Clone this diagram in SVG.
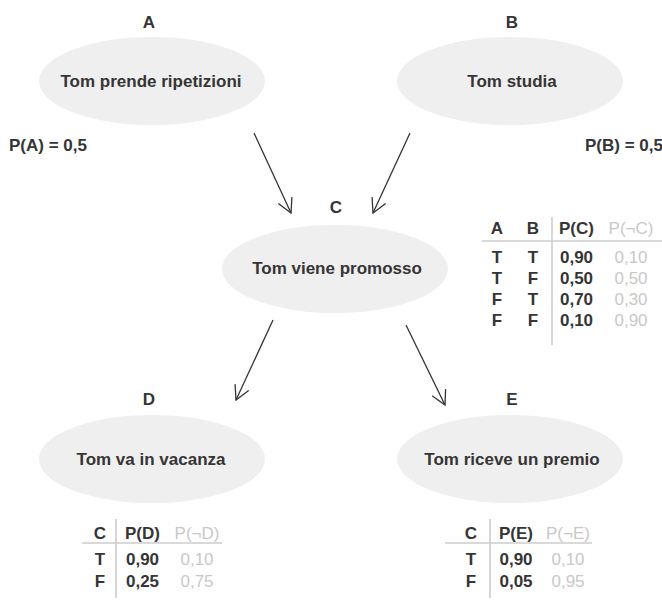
<svg xmlns="http://www.w3.org/2000/svg" width="662" height="600" viewBox="0 0 662 600">
  <defs>
    <style>
      text { font-family: "Liberation Sans", Arial, Helvetica, sans-serif; font-size: 17px; font-weight: bold; fill: #353535; }
      .mid { text-anchor: middle; }
      .neg { font-weight: normal; fill: #c8c8c8; }
      .node { fill: #efefef; stroke: none; }
      .edge { fill: none; stroke: #333333; stroke-width: 1.3; }
      .rule { stroke: #cccccc; stroke-width: 1.6; fill: none; }
    </style>
    <marker id="arrow" markerUnits="userSpaceOnUse" markerWidth="20" markerHeight="20" viewBox="-16 -10 20 20" refX="0" refY="0" orient="auto">
      <path d="M-14,-7.5 L0,0 L-14,7.5" fill="none" stroke="#333333" stroke-width="1.3"/>
    </marker>
  </defs>

  <!-- connectors -->
  <g id="edges">
    <line class="edge" x1="254" y1="133" x2="291" y2="213" marker-end="url(#arrow)"/>
    <line class="edge" x1="410" y1="133" x2="373" y2="213" marker-end="url(#arrow)"/>
    <line class="edge" x1="273" y1="320" x2="236" y2="400" marker-end="url(#arrow)"/>
    <line class="edge" x1="406" y1="325" x2="445" y2="405" marker-end="url(#arrow)"/>
  </g>

  <!-- A: Tom prende ripetizioni -->
  <g id="node-A">
    <text class="mid" x="149" y="28">A</text>
    <ellipse class="node" cx="152" cy="81" rx="113" ry="44"/>
    <text class="mid" x="151" y="87">Tom prende ripetizioni</text>
    <text x="9" y="151">P(A) = 0,5</text>
  </g>

  <!-- B: Tom studia -->
  <g id="node-B">
    <text class="mid" x="512" y="28">B</text>
    <ellipse class="node" cx="510" cy="81" rx="113" ry="44"/>
    <text class="mid" x="512" y="87">Tom studia</text>
    <text x="585" y="151">P(B) = 0,5</text>
  </g>

  <!-- C: Tom viene promosso -->
  <g id="node-C">
    <text class="mid" x="336" y="213">C</text>
    <ellipse class="node" cx="335" cy="269" rx="113" ry="44"/>
    <text class="mid" x="337" y="274">Tom viene promosso</text>
  </g>

  <!-- conditional table for C -->
  <g id="table-C">
    <line class="rule" x1="552" y1="217" x2="552" y2="345"/>
    <line class="rule" x1="482" y1="241" x2="662" y2="241"/>
    <text class="mid" x="497" y="234">A</text>
    <text class="mid" x="533" y="234">B</text>
    <text class="mid" x="576.5" y="234">P(C)</text>
    <text class="mid neg" x="631" y="234">P(¬C)</text>

    <text class="mid" x="497" y="263">T</text>
    <text class="mid" x="533" y="263">T</text>
    <text class="mid" x="576.5" y="263">0,90</text>
    <text class="mid neg" x="631" y="263">0,10</text>

    <text class="mid" x="497" y="284">T</text>
    <text class="mid" x="533" y="284">F</text>
    <text class="mid" x="576.5" y="284">0,50</text>
    <text class="mid neg" x="631" y="284">0,50</text>

    <text class="mid" x="497" y="305">F</text>
    <text class="mid" x="533" y="305">T</text>
    <text class="mid" x="576.5" y="305">0,70</text>
    <text class="mid neg" x="631" y="305">0,30</text>

    <text class="mid" x="497" y="326">F</text>
    <text class="mid" x="533" y="326">F</text>
    <text class="mid" x="576.5" y="326">0,10</text>
    <text class="mid neg" x="631" y="326">0,90</text>
  </g>

  <!-- D: Tom va in vacanza -->
  <g id="node-D">
    <text class="mid" x="149" y="405">D</text>
    <ellipse class="node" cx="152" cy="459" rx="113" ry="44"/>
    <text class="mid" x="151" y="465">Tom va in vacanza</text>
  </g>

  <!-- conditional table for D -->
  <g id="table-D">
    <line class="rule" x1="116" y1="519" x2="116" y2="598"/>
    <line class="rule" x1="82" y1="543" x2="222" y2="543"/>
    <text class="mid" x="100" y="539">C</text>
    <text class="mid" x="142.5" y="539">P(D)</text>
    <text class="mid neg" x="197" y="539">P(¬D)</text>
    <text class="mid" x="100" y="565">T</text>
    <text class="mid" x="142.5" y="565">0,90</text>
    <text class="mid neg" x="197" y="565">0,10</text>
    <text class="mid" x="100" y="587">F</text>
    <text class="mid" x="142.5" y="587">0,25</text>
    <text class="mid neg" x="197" y="587">0,75</text>
  </g>

  <!-- E: Tom riceve un premio -->
  <g id="node-E">
    <text class="mid" x="512" y="405">E</text>
    <ellipse class="node" cx="510" cy="459" rx="113" ry="44"/>
    <text class="mid" x="512" y="465">Tom riceve un premio</text>
  </g>

  <!-- conditional table for E -->
  <g id="table-E">
    <line class="rule" x1="490" y1="519" x2="490" y2="598"/>
    <line class="rule" x1="445" y1="543" x2="592" y2="543"/>
    <text class="mid" x="471" y="539">C</text>
    <text class="mid" x="516" y="539">P(E)</text>
    <text class="mid neg" x="568" y="539">P(¬E)</text>
    <text class="mid" x="471" y="565">T</text>
    <text class="mid" x="516" y="565">0,90</text>
    <text class="mid neg" x="568" y="565">0,10</text>
    <text class="mid" x="471" y="587">F</text>
    <text class="mid" x="516" y="587">0,05</text>
    <text class="mid neg" x="568" y="587">0,95</text>
  </g>
</svg>
